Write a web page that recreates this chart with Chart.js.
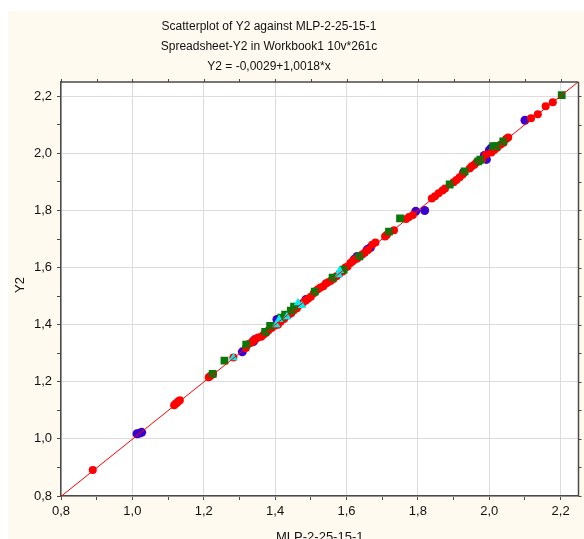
<!DOCTYPE html>
<html>
<head>
<meta charset="utf-8">
<script src="https://cdn.jsdelivr.net/npm/chart.js@4/dist/chart.umd.min.js"></script>
<style>
  body { margin: 0; background: #fff; }
  canvas { display: block; }
</style>
</head>
<body>
<canvas id="myChart" width="584" height="539"></canvas>
<script>
// values
var titleLines = ['Scatterplot of Y2 against MLP-2-25-15-1', 'Spreadsheet-Y2 in Workbook1 10v*261c', 'Y2 = -0,0029+1,0018*x'];
var xTitle = 'MLP-2-25-15-1';
var yTitle = 'Y2';
var fitIntercept = -0.0029, fitSlope = 1.0018;
var fitX = [0.8, 2.25];

var redX = [0.889, 1.117, 1.121, 1.125, 1.129, 1.133, 1.214, 1.219, 1.226, 1.283,
  1.318, 1.325, 1.333, 1.338, 1.345, 1.352, 1.361, 1.368, 1.375, 1.381, 1.39, 1.398,
  1.408, 1.415, 1.425, 1.436, 1.445, 1.452, 1.461, 1.469, 1.477, 1.485, 1.492, 1.5,
  1.508, 1.514, 1.52, 1.527, 1.535, 1.542, 1.547, 1.555, 1.563, 1.572, 1.58, 1.589,
  1.597, 1.603, 1.611, 1.617, 1.622, 1.63, 1.637, 1.644, 1.651, 1.66, 1.672, 1.681,
  1.708, 1.713, 1.733, 1.767, 1.775, 1.786, 1.839, 1.848, 1.858, 1.869, 1.876, 1.9,
  1.908, 1.917, 1.925, 1.945, 1.951, 1.958, 1.964, 1.972, 1.98, 1.99, 2.006, 2.014,
  2.022, 2.031, 2.04, 2.047, 2.053, 2.117, 2.136, 2.158, 2.178];
var redY = [0.891, 1.118, 1.123, 1.127, 1.132, 1.135, 1.216, 1.221, 1.227, 1.285,
  1.318, 1.332, 1.337, 1.343, 1.35, 1.355, 1.358, 1.366, 1.372, 1.38, 1.388, 1.396,
  1.4, 1.41, 1.42, 1.432, 1.44, 1.45, 1.458, 1.47, 1.476, 1.484, 1.491, 1.498,
  1.51, 1.518, 1.524, 1.53, 1.535, 1.544, 1.548, 1.553, 1.56, 1.57, 1.578, 1.586,
  1.6, 1.604, 1.616, 1.622, 1.628, 1.632, 1.64, 1.646, 1.652, 1.662, 1.68, 1.688,
  1.709, 1.715, 1.731, 1.77, 1.777, 1.784, 1.842, 1.85, 1.86, 1.87, 1.877, 1.899,
  1.907, 1.916, 1.926, 1.947, 1.955, 1.96, 1.968, 1.973, 1.979, 1.995, 2.003, 2.012,
  2.02, 2.03, 2.037, 2.05, 2.056, 2.123, 2.137, 2.165, 2.179];

var blueX = [1.013, 1.02, 1.026, 1.308, 1.339, 1.342, 1.405, 1.411, 1.486, 1.622, 1.63,
  1.658, 1.667, 1.794, 1.819, 1.928, 1.986, 1.992, 2.0, 2.005, 2.1];
var blueY = [1.018, 1.02, 1.023, 1.305, 1.341, 1.347, 1.418, 1.414, 1.488, 1.629, 1.639,
  1.663, 1.67, 1.797, 1.8, 1.933, 1.993, 1.979, 2.01, 2.018, 2.116];

var greenX = [1.225, 1.258, 1.319, 1.372, 1.386, 1.417, 1.428, 1.444, 1.453, 1.511, 1.561,
  1.592, 1.636, 1.719, 1.75, 1.889, 1.931, 1.969, 1.975, 2.011, 2.019, 2.039, 2.203];
var greenY = [1.228, 1.274, 1.33, 1.375, 1.396, 1.425, 1.435, 1.449, 1.463, 1.516, 1.565,
  1.593, 1.639, 1.726, 1.772, 1.891, 1.937, 1.972, 1.978, 2.025, 2.025, 2.042, 2.204];

var cyanX = [1.283, 1.403, 1.411, 1.433, 1.464, 1.475, 1.578, 1.581];
var cyanY = [1.284, 1.4, 1.418, 1.428, 1.477, 1.467, 1.575, 1.59];

function pts(xs, ys) {
    return xs.map(function (x, i) { return { x: x, y: ys[i] }; });
}

function isMajor(v) {
    return Math.round(v * 10) % 2 === 0;
}

var fontFam = '"Liberation Sans", Arial, sans-serif';
var axisCol = '#4a4a4a';

var tickOpts = {
    stepSize: 0.1,
    includeBounds: false,
    color: '#111',
    font: { family: fontFam, size: 13 },
    callback: function (v) { return isMajor(v) ? v.toFixed(1).replace('.', ',') : ''; }
};
var gridOpts = {
    color: function (c) { return c.tick && isMajor(c.tick.value) ? '#dcdcdc' : 'rgba(0,0,0,0)'; },
    tickColor: axisCol,
    tickLength: 4,
    lineWidth: 1
};

var frame = {
    id: 'frame',
    beforeDraw: function (chart) {
        var c = chart.ctx, a = chart.chartArea;
        c.save();
        c.fillStyle = '#fff';
        c.fillRect(0, 0, chart.width, chart.height);
        c.fillStyle = '#fffaf0';
        c.fillRect(8, 11, chart.width - 8, chart.height - 11);
        c.fillStyle = '#fff';
        c.fillRect(a.left, a.top, a.right - a.left, a.bottom - a.top);
        c.restore();
    },
    afterDraw: function (chart) {
        var c = chart.ctx, a = chart.chartArea;
        var xs = chart.scales.x, ys = chart.scales.y;
        c.save();
        c.strokeStyle = axisCol;
        c.lineWidth = 1.5;
        c.beginPath();
        c.moveTo(a.left, a.top);
        c.lineTo(a.right, a.top);
        c.moveTo(a.right, a.top);
        c.lineTo(a.right, a.bottom);
        c.stroke();
        c.lineWidth = 1;
        c.beginPath();
        xs.ticks.forEach(function (t) {
            var px = Math.round(xs.getPixelForValue(t.value)) + 0.5;
            c.moveTo(px, a.top);
            c.lineTo(px, a.top - 3);
        });
        ys.ticks.forEach(function (t) {
            var py = Math.round(ys.getPixelForValue(t.value)) + 0.5;
            c.moveTo(a.right, py);
            c.lineTo(a.right + 3, py);
        });
        c.stroke();

        c.fillStyle = '#111';
        c.font = '12px ' + fontFam;
        c.textAlign = 'center';
        c.textBaseline = 'middle';
        titleLines.forEach(function (t, i) {
            c.fillText(t, 269, 27 + i * 20);
        });
        c.font = '13px ' + fontFam;
        c.fillText(xTitle, (a.left + a.right) / 2, 537);
        c.translate(20, 285);
        c.rotate(-Math.PI / 2);
        c.fillText(yTitle, 0, 0);
        c.restore();
    }
};

var ctx = document.getElementById('myChart').getContext('2d');
var myChartObj = new Chart(ctx, {
    type: 'scatter',
    data: {
        datasets: [
            {
                type: 'line',
                data: fitX.map(function (x) { return { x: x, y: fitIntercept + fitSlope * x }; }),
                borderColor: '#ff0000',
                borderWidth: 1,
                pointRadius: 0,
                fill: false,
                order: 0
            },
            {
                data: pts(blueX, blueY),
                pointStyle: 'circle',
                pointRadius: 4.5,
                backgroundColor: '#3a00d0',
                borderWidth: 0,
                order: 4
            },
            {
                data: pts(redX, redY),
                pointStyle: 'circle',
                pointRadius: 4,
                backgroundColor: '#ff0000',
                borderWidth: 0,
                order: 3
            },
            {
                data: pts(greenX, greenY),
                pointStyle: 'rect',
                pointRadius: 5.5,
                backgroundColor: '#087808',
                borderWidth: 0,
                order: 2
            },
            {
                data: pts(cyanX, cyanY),
                pointStyle: 'triangle',
                pointRadius: 5,
                backgroundColor: '#00eeee',
                borderWidth: 0,
                order: 1
            }
        ]
    },
    options: {
        responsive: false,
        animation: false,
        events: [],
        layout: { padding: { left: 0, right: 1, top: 82, bottom: 0 } },
        plugins: { legend: { display: false }, title: { display: false }, tooltip: { enabled: false } },
        scales: {
            x: {
                type: 'linear',
                min: 0.8,
                max: 2.25,
                ticks: Object.assign({ padding: 4 }, tickOpts),
                grid: gridOpts,
                border: { color: axisCol, width: 1.5 },
                afterFit: function (s) { s.height = 43; }
            },
            y: {
                type: 'linear',
                min: 0.8,
                max: 2.25,
                ticks: Object.assign({ padding: 5 }, tickOpts),
                grid: gridOpts,
                border: { color: axisCol, width: 1.5 },
                afterFit: function (s) { s.width = 61; }
            }
        }
    },
    plugins: [frame]
});
</script>
</body>
</html>
